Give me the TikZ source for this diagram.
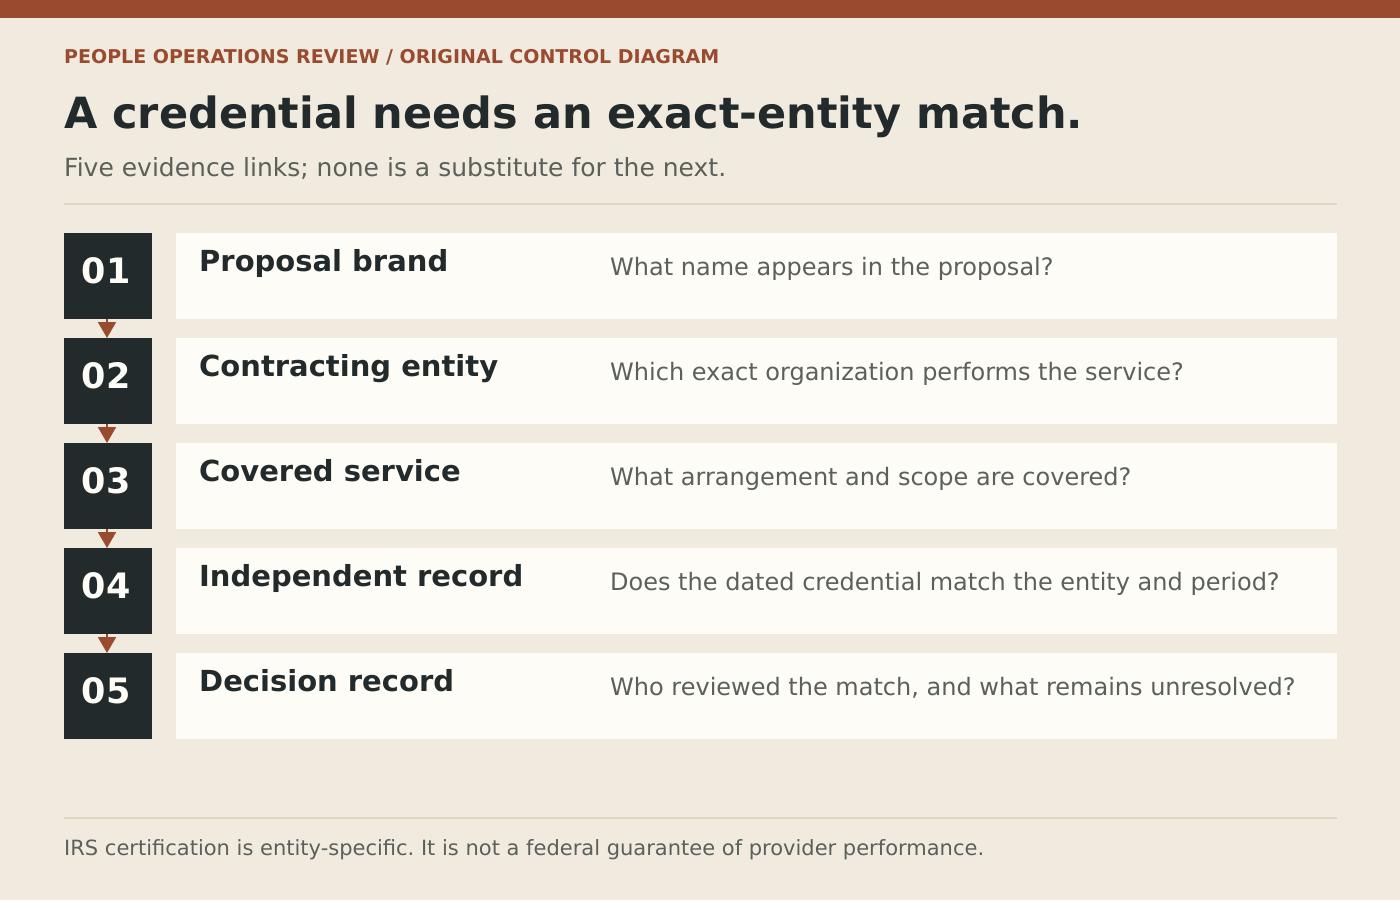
\documentclass[tikz,border=0pt]{standalone}
\usepackage{fontspec}
\setmainfont{DejaVu Sans}
\usetikzlibrary{arrows.meta}
\frenchspacing
\definecolor{bg}{HTML}{F1EBDF}
\definecolor{rust}{HTML}{9A4A2E}
\definecolor{ink}{HTML}{232A2C}
\definecolor{card}{HTML}{FDFCF7}
\definecolor{grey}{HTML}{5B605B}
\definecolor{rule}{HTML}{DDD4C2}
\tikzset{
  numbox/.style={fill=ink, minimum width=88pt, minimum height=86pt, inner sep=0pt, anchor=north west},
  numtext/.style={text=card, anchor=base, inner sep=0pt, font=\bfseries\fontsize{35}{38}\selectfont},
  cardbox/.style={fill=card, minimum width=1161pt, minimum height=86pt, inner sep=0pt, anchor=north west},
  steplabel/.style={anchor=base west, inner sep=0pt, text=ink, font=\bfseries\fontsize{29}{32}\selectfont},
  question/.style={anchor=base west, inner sep=0pt, text=grey, font=\fontsize{24}{28}\selectfont},
  flow/.style={draw=rust, line width=2pt, -{Triangle[width=18pt,length=16pt]}, shorten >=0pt},
}
\begin{document}
\begin{tikzpicture}[x=1pt,y=-1pt]
\fill[bg] (0,0) rectangle (1400,900);
\useasboundingbox (0,0) rectangle (1400,900);
\fill[rust] (0,0) rectangle (1400,18);
\node[anchor=base west, inner sep=0pt, text=rust, font=\bfseries\fontsize{19}{22}\selectfont] (kicker) at (64,63) {PEOPLE OPERATIONS REVIEW / ORIGINAL CONTROL DIAGRAM};
\node[anchor=base west, inner sep=0pt, text=ink, font=\bfseries\fontsize{43}{48}\selectfont] (title) at (64,128) {A credential needs an exact-entity match.};
\node[anchor=base west, inner sep=0pt, text=grey, font=\fontsize{25}{29}\selectfont] (sub) at (64,176) {Five evidence links; none is a substitute for the next.};
\draw[rule, line width=2pt] (64,204) -- (1337,204);
\foreach \i/\num/\lab/\q in {
  0/01/Proposal brand/What name appears in the proposal?,
  1/02/Contracting entity/Which exact organization performs the service?,
  2/03/Covered service/What arrangement and scope are covered?,
  3/04/Independent record/Does the dated credential match the entity and period?,
  4/05/Decision record/{Who reviewed the match, and what remains unresolved?}} {
  \pgfmathsetmacro{\top}{233+105*\i}
  \node[numbox] (n\i) at (64,\top) {};
  \node[numtext] (t\i) at (106,\top+50) {\num};
  \node[cardbox] (c\i) at (176,\top) {};
  \node[steplabel] (l\i) at (199,\top+38) {\lab};
  \node[question] (q\i) at (610,\top+42) {\q};
}
\foreach \i [evaluate=\i as \j using int(\i+1)] in {0,1,2,3} {
  \draw[flow] (n\i.south -| 107,0) -- (n\j.north -| 107,0);
}
\draw[rule, line width=2pt] (64,818) -- (1337,818);
\node[anchor=base west, inner sep=0pt, text=grey, font=\fontsize{21}{24}\selectfont] (foot) at (64,855) {IRS certification is entity-specific. It is not a federal guarantee of provider performance.};
\end{tikzpicture}
\end{document}
